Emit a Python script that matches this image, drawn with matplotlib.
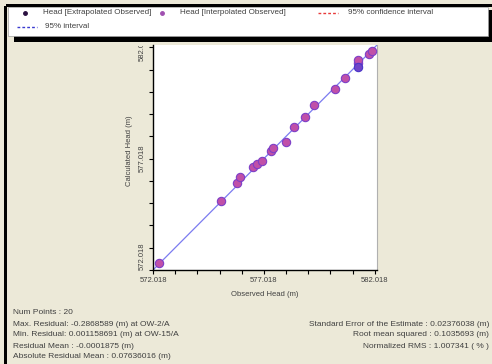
import matplotlib
matplotlib.use("Agg")
import matplotlib.pyplot as plt
from matplotlib.lines import Line2D
from matplotlib.patches import Rectangle
from matplotlib.transforms import Bbox, TransformedBbox

plt.rcParams['font.family'] = ['Liberation Sans', 'DejaVu Sans']

# observed vs calculated heads (m)
obs_interp = [572.303, 575.081, 575.805, 575.964, 576.520, 576.692, 576.937,
              577.357, 577.416, 578.036, 578.366, 578.851, 579.271, 580.217,
              580.670, 581.271, 581.271, 581.737, 581.905]
calc_interp = [572.346, 575.133, 575.906, 576.207, 576.625, 576.796, 576.930,
               577.366, 577.479, 577.762, 578.431, 578.894, 579.447, 580.139,
               580.656, 581.308, 581.434, 581.704, 581.838]
obs_extrap = [581.262]
calc_extrap = [581.128]

line_x = [572.018, 582.12]
line_y = [572.018, 582.12]

ticks = [572.018 + i for i in range(11)]
tick_labels = ['572.018', '', '', '', '', '577.018', '', '', '', '', '582.018']

legend_labels = ['Head [Extrapolated Observed]', 'Head [Interpolated Observed]',
                 '95% confidence interval', '95% interval']

stats_left = ["Num Points : 20",
              "Max. Residual: -0.2868589 (m) at OW-2/A",
              "Min. Residual: 0.001158691 (m) at OW-15/A",
              "Residual Mean : -0.0001875 (m)",
              "Absolute Residual Mean : 0.07636016 (m)"]
stats_right = ["Standard Error of the Estimate : 0.02376038 (m)",
               "Root mean squared : 0.1035693 (m)",
               "Normalized RMS : 1.007341 ( % )"]

bg = '#ece9d8'
txt = '#404040'
fig = plt.figure(figsize=(4.92, 3.64), dpi=100, facecolor=bg)
W, H = 492.0, 364.0

def fx(px):
    return px / W

def fy(py):
    return 1 - py / H

ax = fig.add_axes([fx(153), fy(270), 224 / W, 225 / H])
ax.set_facecolor('white')

ax.plot(line_x, line_y, color='#7b7bf0', lw=0.9, zorder=2)
ax.scatter(obs_interp, calc_interp, s=36, facecolor='#c050a8',
           edgecolor='#7d3fc8', lw=0.8, zorder=3)
ax.scatter(obs_extrap, calc_extrap, s=36, facecolor='#7044c8',
           edgecolor='#4a36c8', lw=0.8, zorder=3)

ax.set_xlim(line_x)
ax.set_ylim(line_y)
ax.set_xticks(ticks)
ax.set_xticklabels(tick_labels)
ax.set_yticks(ticks)
ax.set_yticklabels(tick_labels, rotation=90, va='center')
ax.tick_params(length=3, width=0.8, labelsize=5.5, labelcolor=txt,
               pad=2, color='black')

for side in ['left', 'bottom']:
    ax.spines[side].set_color('black')
    ax.spines[side].set_linewidth(1.0)
ax.spines['right'].set_color('#b0b0b0')
ax.spines['right'].set_linewidth(0.8)
ax.spines['top'].set_visible(False)

ax.set_xlabel('Observed Head (m)', fontsize=5.5, color=txt)
ax.set_ylabel('Calculated Head (m)', fontsize=5.5, color=txt)
ax.xaxis.set_label_coords(0.5, -0.092)
ax.yaxis.set_label_coords(-0.09, 0.53)

ylabels = ax.get_yticklabels()
ylabels[0].set_va('bottom')
clip = TransformedBbox(Bbox([[0, 0], [1, fy(46)]]), fig.transFigure)
ylabels[-1].set_clip_box(clip)
ylabels[-1].set_clip_on(True)

# window frame, legend box and its shadow
fig.patches.append(Rectangle((fx(6), fy(6.5)), 1, 2.5 / H, transform=fig.transFigure,
                             facecolor='black', edgecolor='none', zorder=5))
fig.patches.append(Rectangle((fx(3.5), 0), 3 / W, fy(6), transform=fig.transFigure,
                             facecolor='black', edgecolor='none', zorder=5))
fig.patches.append(Rectangle((fx(14), fy(42)), 1, 32 / H, transform=fig.transFigure,
                             facecolor='black', edgecolor='none', zorder=5))
fig.patches.append(Rectangle((fx(8), fy(36)), 480 / W, 29 / H, transform=fig.transFigure,
                             facecolor='white', edgecolor='#a0a0a0', lw=0.5, zorder=6))

# legend entries
fig.lines.append(Line2D([fx(25)], [fy(13)], ls='none', marker='o', ms=2.5,
                        color='#2a1040', transform=fig.transFigure, zorder=7))
fig.lines.append(Line2D([fx(162)], [fy(13)], ls='none', marker='o', ms=2.5,
                        color='#a050b0', transform=fig.transFigure, zorder=7))
fig.lines.append(Line2D([fx(318), fx(338)], [fy(13), fy(13)], ls=(0, (2, 1.5)),
                        lw=1.0, color='#e83a3a', transform=fig.transFigure, zorder=7))
fig.lines.append(Line2D([fx(17), fx(37)], [fy(27), fy(27)], ls=(0, (2, 1.5)),
                        lw=1.0, color='#3a3ad0', transform=fig.transFigure, zorder=7))
leg_pos = [(43, 13), (180, 13), (348, 13), (45, 27)]
for (px, py), s in zip(leg_pos, legend_labels):
    fig.text(fx(px), fy(py), s, fontsize=5.8, color=txt, ha='left', va='center', zorder=7)

for i, s in enumerate(stats_left):
    fig.text(fx(13), fy(313 + 11 * i), s, fontsize=6, color=txt,
             ha='left', va='center')
for i, s in enumerate(stats_right):
    fig.text(fx(489), fy(324 + 11 * i), s, fontsize=6, color=txt,
             ha='right', va='center')

fig.savefig('out.png', dpi=100, facecolor=bg)
